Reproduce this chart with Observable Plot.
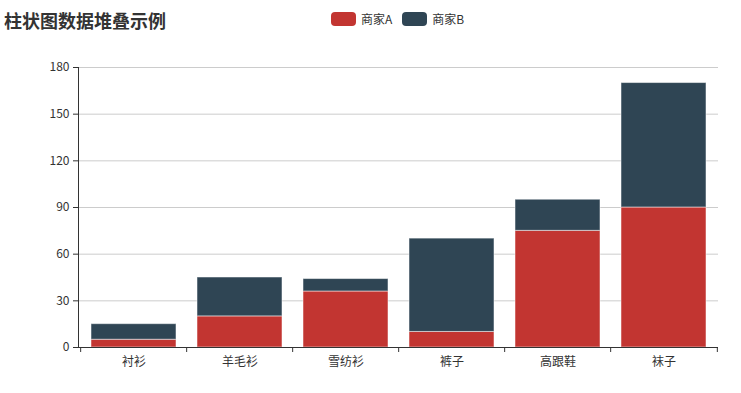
<!DOCTYPE html>
<html><head><meta charset="utf-8">
<script src="https://cdn.jsdelivr.net/npm/d3@7"></script>
<script src="https://cdn.jsdelivr.net/npm/@observablehq/plot@0.6"></script>
<style>
body{margin:0;background:#fff;font-family:"Noto Sans CJK SC","Noto Sans",sans-serif;}
#wrap{position:relative;width:741px;height:393px;}
#head{position:relative;height:40px;}
#title{position:absolute;left:4px;top:8px;font-size:18px;font-weight:bold;color:#333;line-height:24px;}
#legend{position:absolute;left:331px;top:11px;display:flex;font-size:12px;color:#333;line-height:16px;}
.item{display:flex;align-items:center;margin-right:10px;}
.sw{width:25px;height:14px;border-radius:4px;margin-right:5px;}
</style></head>
<body><div id="wrap"><div id="head"><div id="title"></div><div id="legend"></div></div><div id="chart"></div></div>
<script>
const title = "柱状图数据堆叠示例";
const categories = ["衬衫","羊毛衫","雪纺衫","裤子","高跟鞋","袜子"];
const seriesNames = ["商家A","商家B"];
const valuesA = [5,20,36,10,75,90];
const valuesB = [10,25,8,60,20,80];
const yTicks = [0,30,60,90,120,150,180];
const colors = ["#c23531","#2f4554"];

document.getElementById("title").textContent = title;
const lg = document.getElementById("legend");
seriesNames.forEach((s,i)=>{
  const it=document.createElement("div");it.className="item";
  const sw=document.createElement("div");sw.className="sw";sw.style.background=colors[i];
  const t=document.createElement("span");t.textContent=s;
  it.appendChild(sw);it.appendChild(t);lg.appendChild(it);
});

const data = [];
[valuesA,valuesB].forEach((vals,si)=>vals.forEach((v,i)=>data.push({cat:categories[i],series:seriesNames[si],value:v})));

const W=741,H=353,mL=78,mR=23;
const bw=(W-mL-mR)/categories.length;
const chart = Plot.plot({
  width:W,height:H,
  marginTop:27,marginBottom:46,marginLeft:mL,marginRight:mR,
  style:{fontFamily:'"Noto Sans CJK SC","Noto Sans",sans-serif',fontSize:"12px",color:"#333",background:"#fff"},
  x:{domain:categories,paddingInner:0.2,paddingOuter:0.1,align:0.5,label:null},
  y:{domain:[0,180],label:null},
  color:{domain:seriesNames,range:colors},
  marks:[
    Plot.gridY(yTicks.slice(1),{stroke:"#ccc",strokeOpacity:1}),
    Plot.barY(data,{x:"cat",y:"value",fill:"series",stroke:"#fff",strokeOpacity:0.5,strokeWidth:1}),
    Plot.axisY({ticks:yTicks,tickSize:5,tickPadding:4,stroke:"#333",fill:"#333",label:null,fontSize:12}),
    Plot.ruleY([0],{stroke:"#333"}),
    Plot.axisX({tickSize:5,tickFormat:()=>"",dx:-bw/2,stroke:"#333",label:null}),
    Plot.axisX({ticks:[categories[categories.length-1]],tickSize:5,tickFormat:()=>"",dx:bw/2,stroke:"#333",label:null}),
    Plot.axisX({tickSize:0,tickPadding:10,fill:"#333",label:null,fontSize:12}),
    Plot.frame({anchor:"left",stroke:"#333"})
  ]
});
document.getElementById("chart").appendChild(chart);
</script></body></html>
